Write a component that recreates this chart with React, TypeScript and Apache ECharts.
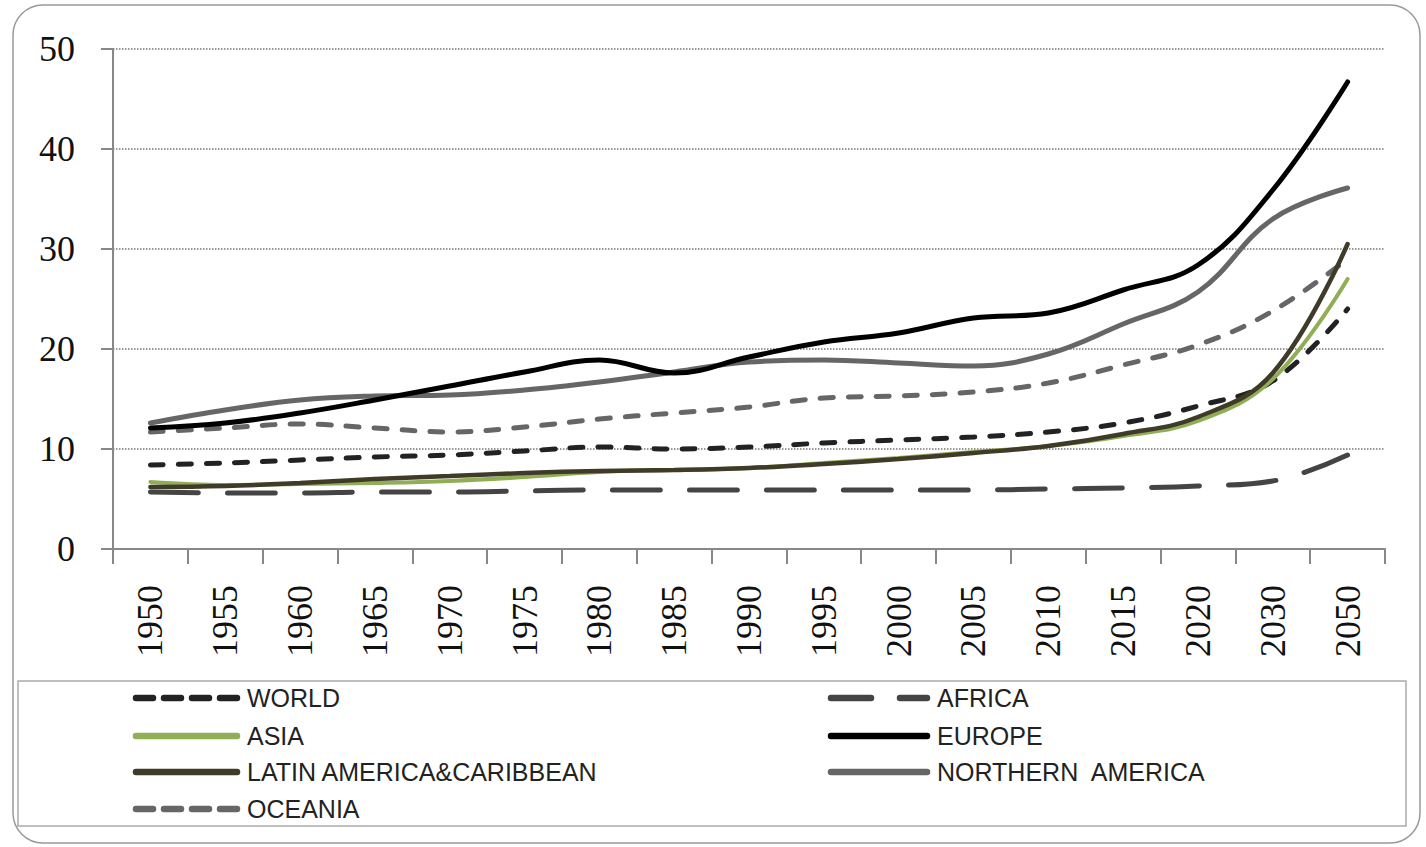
import React, { useEffect, useRef } from "react";
import * as echarts from "echarts";

const categories = ["1950","1955","1960","1965","1970","1975","1980","1985","1990","1995","2000","2005","2010","2015","2020","2030","2050"];
const yTicks = [0, 10, 20, 30, 40, 50];

const world = [8.4, 8.6, 8.9, 9.2, 9.4, 9.8, 10.2, 10.0, 10.2, 10.6, 10.9, 11.2, 11.7, 12.6, 14.3, 16.8, 24.0];
const africa = [5.7, 5.6, 5.6, 5.7, 5.7, 5.8, 5.9, 5.9, 5.9, 5.9, 5.9, 5.9, 6.0, 6.1, 6.3, 6.8, 9.4];
const asia = [6.7, 6.4, 6.5, 6.6, 6.8, 7.2, 7.7, 7.9, 8.1, 8.6, 9.1, 9.7, 10.3, 11.3, 12.8, 17.0, 27.0];
const europe = [12.1, 12.6, 13.6, 14.9, 16.3, 17.7, 18.9, 17.6, 19.2, 20.7, 21.6, 23.1, 23.6, 25.9, 28.4, 35.9, 46.7];
const latin = [6.2, 6.3, 6.6, 7.0, 7.3, 7.6, 7.8, 7.9, 8.1, 8.5, 9.0, 9.6, 10.3, 11.5, 13.2, 17.6, 30.5];
const nAmerica = [12.6, 13.9, 14.9, 15.3, 15.4, 15.9, 16.7, 17.7, 18.7, 18.9, 18.6, 18.3, 19.5, 22.5, 25.7, 33.0, 36.1];
const oceania = [11.7, 12.1, 12.5, 12.1, 11.7, 12.2, 13.0, 13.6, 14.2, 15.1, 15.3, 15.7, 16.6, 18.4, 20.4, 23.8, 29.0];

const names = {
  world: "WORLD",
  africa: "AFRICA",
  asia: "ASIA",
  europe: "EUROPE",
  latin: "LATIN AMERICA&CARIBBEAN",
  nAmerica: "NORTHERN  AMERICA",
  oceania: "OCEANIA",
};

type Sty = { name: string; data: number[]; color: string; width: number; dash: number[] | null; z: number; col: number; row: number };

const styles: Sty[] = [
  { name: names.africa, data: africa, color: "#444", width: 5, dash: [48, 29], z: 2, col: 1, row: 0 },
  { name: names.oceania, data: oceania, color: "#666", width: 5, dash: [13, 15], z: 3, col: 0, row: 3 },
  { name: names.world, data: world, color: "#222", width: 5, dash: [13, 15], z: 4, col: 0, row: 0 },
  { name: names.asia, data: asia, color: "#8fae55", width: 4, dash: null, z: 5, col: 0, row: 1 },
  { name: names.latin, data: latin, color: "#3f3b28", width: 4.5, dash: null, z: 6, col: 0, row: 2 },
  { name: names.nAmerica, data: nAmerica, color: "#666", width: 5, dash: null, z: 7, col: 1, row: 2 },
  { name: names.europe, data: europe, color: "#000", width: 5, dash: null, z: 8, col: 1, row: 1 },
];

export default function App() {
  const ref = useRef<HTMLDivElement>(null);
  useEffect(() => {
    if (!ref.current) return;
    const chart = echarts.init(ref.current, null, { renderer: "svg" });

    const colX = [133, 828];
    const colW = [107, 102];
    const rowY = [698, 736, 772, 809];
    const legendGraphics: any[] = [];
    styles.forEach((s) => {
      const x0 = colX[s.col];
      const y = rowY[s.row];
      legendGraphics.push({
        type: "line",
        shape: { x1: x0 + 3, y1: y, x2: x0 + colW[s.col] - 3, y2: y },
        style: {
          stroke: s.color,
          lineWidth: 6.5,
          lineCap: "round",
          lineDash: s.dash ? (s.col === 1 ? [40, 29] : [17, 11]) : null,
        },
        z: 10,
      });
      legendGraphics.push({
        type: "text",
        x: x0 + colW[s.col] + 7,
        y,
        style: {
          text: s.name,
          font: '25px "Liberation Sans"',
          fill: "#222",
          verticalAlign: "middle",
          align: "left",
        },
        z: 10,
      });
    });

    chart.setOption({
      animation: false,
      backgroundColor: "#fff",
      grid: { left: 113, right: 41, top: 49, bottom: 298, containLabel: false },
      xAxis: {
        type: "category",
        data: categories,
        boundaryGap: true,
        axisLine: { lineStyle: { color: "#888", width: 2 } },
        axisTick: { show: true, length: 15, lineStyle: { color: "#888", width: 2 } },
        axisLabel: { rotate: 90, fontSize: 36, fontFamily: "Liberation Serif", color: "#111", margin: 36 },
        splitLine: { show: false },
      },
      yAxis: {
        type: "value",
        min: yTicks[0],
        max: yTicks[yTicks.length - 1],
        interval: 10,
        axisLine: { show: true, lineStyle: { color: "#888", width: 2 } },
        axisTick: { show: true, length: 12, lineStyle: { color: "#888", width: 2 } },
        axisLabel: { fontSize: 36, fontFamily: "Liberation Serif", color: "#111", margin: 38 },
        splitLine: { show: true, lineStyle: { type: "dotted", color: "#777", width: 1.5 } },
      },
      graphic: [
        {
          type: "rect",
          shape: { x: 13, y: 5, width: 1407, height: 838, r: 30 },
          style: { fill: "none", stroke: "#999", lineWidth: 1.5 },
          z: -1,
        },
        {
          type: "rect",
          shape: { x: 18, y: 681, width: 1388, height: 145 },
          style: { fill: "none", stroke: "#aaa", lineWidth: 1.5 },
          z: -1,
        },
        ...legendGraphics,
      ],
      series: styles.map((s) => ({
        name: s.name,
        type: "line",
        data: s.data,
        smooth: 0.4,
        symbol: "none",
        z: s.z,
        lineStyle: { color: s.color, width: s.width, type: s.dash ? s.dash : "solid", cap: "round" },
        itemStyle: { color: s.color },
      })),
    });
    return () => chart.dispose();
  }, []);
  return (
    <div
      ref={ref}
      style={{ position: "absolute", left: 0, top: 0, width: 1426, height: 847 }}
    />
  );
}
